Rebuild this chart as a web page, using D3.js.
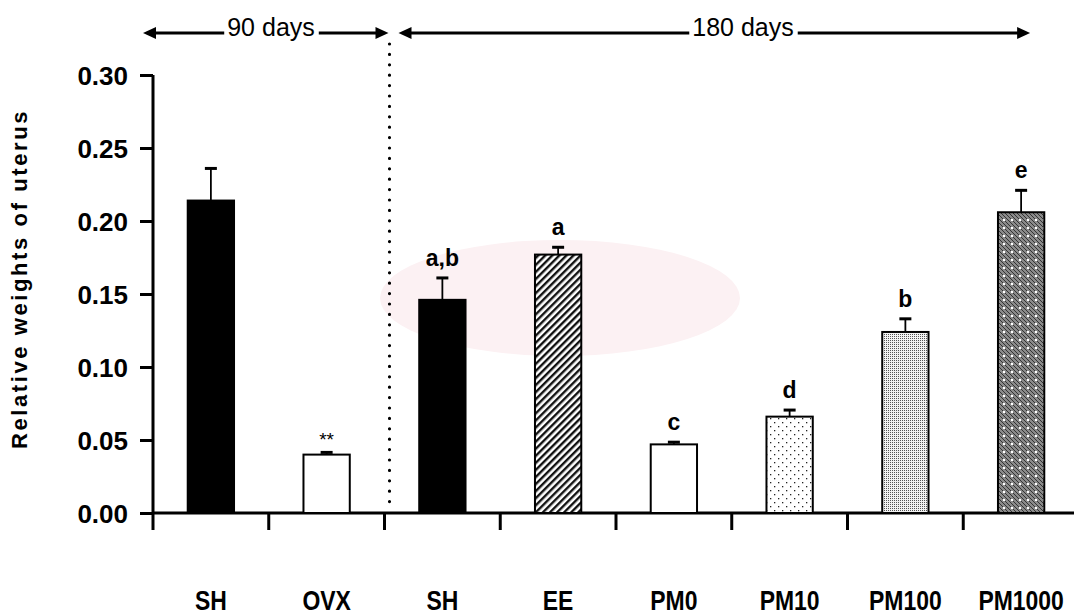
<!DOCTYPE html>
<html>
<head>
<meta charset="utf-8">
<script src="https://cdn.jsdelivr.net/npm/d3@7"></script>
<style>
  body { margin: 0; background: #fff; }
  svg { display: block; }
</style>
</head>
<body>
<div id="chart"></div>
<script>
// data
var categories = ["SH", "OVX", "SH", "EE", "PM0", "PM10", "PM100", "PM1000"];
var means = [0.214, 0.040, 0.146, 0.177, 0.047, 0.066, 0.124, 0.206];
var sems = [0.022, 0.0015, 0.015, 0.005, 0.0015, 0.0045, 0.009, 0.015];
var marks = ["", "**", "a,b", "a", "c", "d", "b", "e"];
var fills = ["solid", "white", "solid", "hatch", "white", "dots", "fine", "dark"];
var yTicks = [0, 0.05, 0.10, 0.15, 0.20, 0.25, 0.30];
var periods = ["90 days", "180 days"];

var width = 1074, height = 616;

var svg = d3.select("#chart").append("svg")
    .attr("width", width)
    .attr("height", height);

var defs = svg.append("defs");

// fill patterns
var hatch = defs.append("pattern")
    .attr("id", "hatch")
    .attr("patternUnits", "userSpaceOnUse")
    .attr("width", 5).attr("height", 5)
    .attr("patternTransform", "rotate(45)");
hatch.append("rect").attr("width", 5).attr("height", 5).attr("fill", "#fff");
hatch.append("rect").attr("width", 2.4).attr("height", 5).attr("fill", "#111");

var dots = defs.append("pattern")
    .attr("id", "dots")
    .attr("patternUnits", "userSpaceOnUse")
    .attr("width", 8).attr("height", 8);
dots.append("rect").attr("width", 8).attr("height", 8).attr("fill", "#fff");
dots.append("rect").attr("x", 2).attr("y", 2).attr("width", 1.3).attr("height", 1.3).attr("fill", "#222");
dots.append("rect").attr("x", 6).attr("y", 6).attr("width", 1.3).attr("height", 1.3).attr("fill", "#222");

var fine = defs.append("pattern")
    .attr("id", "fine")
    .attr("patternUnits", "userSpaceOnUse")
    .attr("width", 2).attr("height", 2);
fine.append("rect").attr("width", 2).attr("height", 2).attr("fill", "#f2f2f2");
fine.append("rect").attr("width", 1).attr("height", 1).attr("fill", "#555");

var dark = defs.append("pattern")
    .attr("id", "dark")
    .attr("patternUnits", "userSpaceOnUse")
    .attr("width", 8).attr("height", 8);
dark.append("rect").attr("width", 8).attr("height", 8).attr("fill", "#8a8a8a");
[0, 2, 4, 6].forEach(function(i) {
  [0, 2, 4, 6].forEach(function(j) {
    if ((i / 2 + j / 2) % 2 === 0) {
      dark.append("rect").attr("x", i).attr("y", j).attr("width", 1).attr("height", 1).attr("fill", "#333");
      dark.append("rect").attr("x", i + 1).attr("y", j + 1).attr("width", 1).attr("height", 1).attr("fill", "#333");
    }
  });
});
dark.append("rect").attr("x", 3).attr("y", 3).attr("width", 2).attr("height", 2).attr("fill", "#fff");

var fillOf = {
  solid: "#000",
  white: "#fff",
  hatch: "url(#hatch)",
  dots: "url(#dots)",
  fine: "url(#fine)",
  dark: "url(#dark)"
};

// faint watermark blob behind the plot
svg.append("ellipse")
    .attr("cx", 560).attr("cy", 298)
    .attr("rx", 180).attr("ry", 58)
    .attr("fill", "#fcf1f3");

var x = d3.scaleBand()
    .domain(d3.range(categories.length))
    .range([153, 1079]);

var y = d3.scaleLinear()
    .domain([0, 0.30])
    .range([513, 75]);

var barW = x.bandwidth() * 0.4;

// y axis
var yAxis = svg.append("g")
    .attr("transform", "translate(153,0)")
    .call(d3.axisLeft(y).tickValues(yTicks).tickFormat(d3.format(".2f")).tickSize(13).tickPadding(12));
yAxis.select(".domain").attr("stroke-width", 3).attr("d", "M0," + y(0.30) + "V" + (y(0) + 17));
yAxis.selectAll(".tick line").attr("stroke-width", 3);
yAxis.selectAll(".tick text")
    .style("font-family", "'Liberation Sans', Arial, sans-serif")
    .style("font-weight", "bold")
    .style("font-size", "26px")
    .attr("fill", "#000")
    .attr("dy", "0.36em");

// x axis line and separator ticks
svg.append("line")
    .attr("x1", 153).attr("x2", width)
    .attr("y1", y(0)).attr("y2", y(0))
    .attr("stroke", "#000").attr("stroke-width", 3);

svg.selectAll(".xtick")
    .data(d3.range(1, categories.length))
    .enter().append("line")
    .attr("x1", function(i) { return x(i); })
    .attr("x2", function(i) { return x(i); })
    .attr("y1", y(0)).attr("y2", y(0) + 17)
    .attr("stroke", "#000").attr("stroke-width", 3);

// category labels
svg.selectAll(".xlabel")
    .data(categories)
    .enter().append("text")
    .attr("transform", function(d, i) {
      return "translate(" + (x(i) + x.bandwidth() / 2) + ",610) scale(0.82,1)";
    })
    .attr("text-anchor", "middle")
    .style("font-family", "'Liberation Sans', Arial, sans-serif")
    .style("font-weight", "bold")
    .style("font-size", "28px")
    .text(function(d) { return d; });

// y axis title
svg.append("text")
    .attr("transform", "translate(27,279) rotate(-90)")
    .attr("text-anchor", "middle")
    .style("font-family", "'Liberation Sans', Arial, sans-serif")
    .style("font-weight", "bold")
    .style("font-size", "22px")
    .style("letter-spacing", "2.6px")
    .text("Relative weights of uterus");

// bars
var bars = svg.append("g");
bars.selectAll("rect")
    .data(means)
    .enter().append("rect")
    .attr("x", function(d, i) { return x(i) + (x.bandwidth() - barW) / 2; })
    .attr("y", function(d) { return y(d); })
    .attr("width", barW)
    .attr("height", function(d) { return y(0) - y(d); })
    .attr("fill", function(d, i) { return fillOf[fills[i]]; })
    .attr("stroke", "#000")
    .attr("stroke-width", 2);

// error bars (upper only)
var err = svg.append("g");
means.forEach(function(m, i) {
  var cx = x(i) + x.bandwidth() / 2;
  err.append("line")
      .attr("x1", cx).attr("x2", cx)
      .attr("y1", y(m)).attr("y2", y(m + sems[i]))
      .attr("stroke", "#000").attr("stroke-width", 1.8);
  err.append("line")
      .attr("x1", cx - 6).attr("x2", cx + 6)
      .attr("y1", y(m + sems[i])).attr("y2", y(m + sems[i]))
      .attr("stroke", "#000").attr("stroke-width", 3);
});

// significance letters
svg.selectAll(".mark")
    .data(marks)
    .enter().append("text")
    .attr("x", function(d, i) { return x(i) + x.bandwidth() / 2; })
    .attr("y", function(d, i) { return y(means[i] + sems[i]) - (d === "**" ? 6 : 12); })
    .attr("text-anchor", "middle")
    .style("font-family", "'Liberation Sans', Arial, sans-serif")
    .style("font-weight", function(d) { return d === "**" ? "normal" : "bold"; })
    .style("font-size", function(d) { return d === "**" ? "19px" : "23px"; })
    .text(function(d) { return d; });

// dotted separator between the two periods
var sepX = x(2) + 5;
svg.append("line")
    .attr("x1", sepX).attr("x2", sepX)
    .attr("y1", 44).attr("y2", y(0) - 8)
    .attr("stroke", "#000")
    .attr("stroke-width", 3.2)
    .attr("stroke-linecap", "round")
    .attr("stroke-dasharray", "0,10.4");

// period arrows
function arrow(x1, x2, label, textX) {
  var yy = 33;
  var g = svg.append("g");
  var t = g.append("text")
      .attr("x", textX)
      .attr("y", yy + 3)
      .attr("text-anchor", "middle")
      .style("font-family", "'Liberation Sans', Arial, sans-serif")
      .style("font-size", "25px")
      .text(label);
  var half = t.node().getComputedTextLength() / 2;
  g.append("line")
      .attr("x1", x1 + 8).attr("x2", textX - half - 3)
      .attr("y1", yy).attr("y2", yy)
      .attr("stroke", "#000").attr("stroke-width", 3);
  g.append("line")
      .attr("x1", textX + half + 4).attr("x2", x2 - 8)
      .attr("y1", yy).attr("y2", yy)
      .attr("stroke", "#000").attr("stroke-width", 3);
  g.append("path")
      .attr("d", "M" + x1 + "," + yy + "l13,-6v12z")
      .attr("fill", "#000");
  g.append("path")
      .attr("d", "M" + x2 + "," + yy + "l-13,-6v12z")
      .attr("fill", "#000");
}

arrow(x(0) - 10, sepX - 1, periods[0], 271);
arrow(sepX + 9, x(7) + x.bandwidth() / 2 + 9, periods[1], 743);
</script>
</body>
</html>
